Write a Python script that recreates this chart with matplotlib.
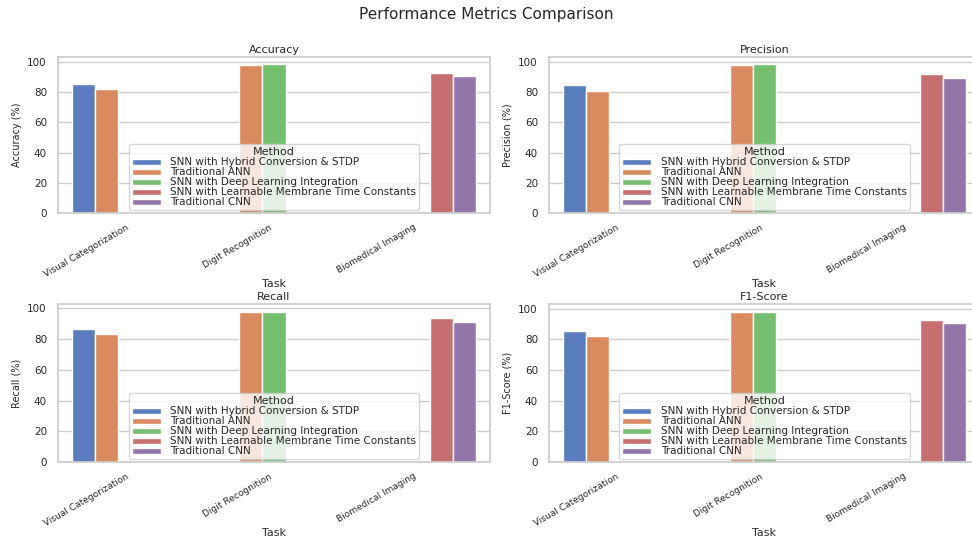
import matplotlib
matplotlib.use("Agg")
import matplotlib.pyplot as plt
import pandas as pd
import seaborn as sns

# results per (task, method) pair
tasks = ["Visual Categorization", "Visual Categorization",
         "Digit Recognition", "Digit Recognition",
         "Biomedical Imaging", "Biomedical Imaging"]
methods = ["SNN with Hybrid Conversion & STDP", "Traditional ANN",
           "Traditional ANN", "SNN with Deep Learning Integration",
           "SNN with Learnable Membrane Time Constants", "Traditional CNN"]
accuracy = [85.5, 82.0, 98.0, 98.5, 93.0, 90.5]
precision = [85.0, 81.0, 98.0, 98.5, 92.0, 89.5]
recall = [86.5, 83.5, 98.0, 98.0, 93.5, 91.0]
f1_score = [85.5, 82.0, 98.0, 98.2, 92.7, 90.5]
metric_names = ["Accuracy", "Precision", "Recall", "F1-Score"]

df = pd.DataFrame({
    "Task": tasks,
    "Method": methods,
    "Accuracy": accuracy,
    "Precision": precision,
    "Recall": recall,
    "F1-Score": f1_score,
})

sns.set_theme(style="whitegrid")

fig = plt.figure(figsize=(9.72, 5.38), dpi=100)
W, H = 972, 538
# axes boxes in pixels: left, top, right, bottom
boxes = [(58, 57, 490, 213), (549, 57, 980, 213),
         (58, 304, 490, 462), (549, 304, 980, 462)]

for name, (l, t, r, b) in zip(metric_names, boxes):
    ax = fig.add_axes([l / W, 1 - b / H, (r - l) / W, (b - t) / H])
    sns.barplot(data=df, x="Task", y=name, hue="Method", palette="muted",
                errorbar=None, ax=ax)
    ax.set_title(name, fontsize=8, pad=3)
    ax.set_ylabel(f"{name} (%)", fontsize=7, labelpad=4)
    ax.set_xlabel("Task", fontsize=8, labelpad=0)
    ax.set_yticks([0, 20, 40, 60, 80, 100])
    ax.tick_params(axis="y", labelsize=7.5, pad=2)
    ax.tick_params(axis="x", labelsize=6.5, pad=1)
    plt.setp(ax.get_xticklabels(), rotation=30, ha="right")
    ax.legend(title="Method", loc="lower center", fontsize=7.5,
              title_fontsize=8, labelspacing=0.0, handlelength=2.8,
              handleheight=0.5, handletextpad=0.9, borderpad=0.3,
              borderaxespad=0.25)

fig.suptitle("Performance Metrics Comparison", fontsize=11, y=0.987)

fig.savefig("out.png", dpi=100)
